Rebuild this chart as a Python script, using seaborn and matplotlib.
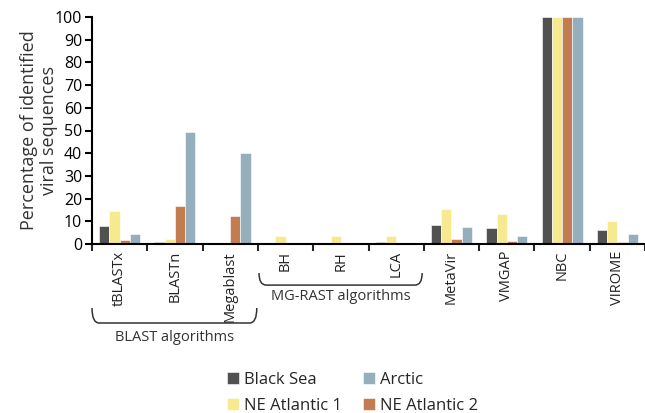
import numpy as np
import pandas as pd
import matplotlib.pyplot as plt
import seaborn as sns
from matplotlib.path import Path
from matplotlib.patches import PathPatch
import matplotlib.transforms as mtransforms

# ---------------- data ----------------#
methods = ["tBLASTx", "BLASTn", "Megablast", "BH", "RH", "LCA",
           "MetaVir", "VMGAP", "NBC", "VIROME"]
black_sea = [8.0, 0.8, 0.0, 0.4, 0.5, 1.0, 8.2, 7.2, 100, 6.3]
ne_atlantic1 = [14.4, 2.2, 0.0, 3.7, 3.7, 3.7, 15.6, 13.3, 100, 10.2]
ne_atlantic2 = [1.9, 16.6, 12.2, 0.3, 0.3, 0.2, 2.4, 1.4, 100, 0.8]
arctic = [4.5, 49.2, 40.0, 0.3, 0.3, 0.0, 7.3, 3.7, 100, 4.4]

samples = ["Black Sea", "NE Atlantic 1", "NE Atlantic 2", "Arctic"]
colors = ["#515151", "#F7E98E", "#C27C4F", "#94AEBB"]

df = pd.DataFrame({
    "method": methods * 4,
    "sample": np.repeat(samples, len(methods)),
    "value": black_sea + ne_atlantic1 + ne_atlantic2 + arctic,
})

# ---------------- plot ----------------#
sns.set_theme(style="white")
plt.rcParams["font.family"] = ["Open Sans", "DejaVu Sans"]

fig = plt.figure(figsize=(6.45, 4.13), dpi=100)
ax = fig.add_axes([92 / 645, 169 / 413, 1 - 92 / 645, 227 / 413])

sns.barplot(data=df, x="method", y="value", hue="sample", order=methods,
            hue_order=samples, palette=colors, width=0.74, saturation=1,
            edgecolor="white", linewidth=0.4, ax=ax, legend=True)

ax.set_ylim(0, 100)
ax.set_xlim(-0.5, 9.375)
ax.set_yticks(range(0, 101, 10))
ax.tick_params(axis="y", labelsize=11.5, length=5, width=1.5, direction="out",
               left=True, pad=2, colors="black")
ax.set_xticks(range(len(methods)))
ax.set_xticklabels(methods, rotation=90, fontsize=10.5, color="#222222")
ax.tick_params(axis="x", length=0, pad=5)
ax.set_xticks(np.arange(-0.5, len(methods), 1.0), minor=True)
ax.tick_params(axis="x", which="minor", length=5, width=1.5, bottom=True,
               direction="out")
for s in ["top", "right"]:
    ax.spines[s].set_visible(False)
for s in ["left", "bottom"]:
    ax.spines[s].set_color("black")
    ax.spines[s].set_linewidth(1.5)
ax.set_xlabel("")
ax.set_ylabel("Percentage of identified\nviral sequences", fontsize=13,
              color="#333333", labelpad=-2, linespacing=1.15)

# brackets under groups of methods
trans = mtransforms.blended_transform_factory(ax.transData, ax.transAxes)


def bracket(x0, x1, ytop, ybot, label, ytext):
    r = 0.13
    verts = [(x0, ytop), (x0, ybot), (x0 + r, ybot), (x1 - r, ybot),
             (x1, ybot), (x1, ytop)]
    codes = [Path.MOVETO, Path.CURVE3, Path.CURVE3, Path.LINETO,
             Path.CURVE3, Path.CURVE3]
    ax.add_patch(PathPatch(Path(verts, codes), transform=trans, fill=False,
                           lw=1.1, color="#333333", clip_on=False))
    ax.text((x0 + x1) / 2, ytext, label, transform=trans, ha="center",
            va="center", fontsize=10.5, color="#333333")


bracket(-0.5, 2.48, -0.282, -0.348, "BLAST algorithms", -0.41)
bracket(2.52, 5.47, -0.128, -0.181, "MG-RAST algorithms", -0.233)

# legend
h, l = ax.get_legend_handles_labels()
ax.get_legend().remove()
order = [0, 1, 3, 2]
fig.legend([h[i] for i in order], [l[i] for i in order], ncol=2,
           loc="center left", bbox_to_anchor=(212 / 645, 20 / 413),
           frameon=False, fontsize=12, handlelength=0.7, handleheight=0.7,
           handletextpad=0.3, columnspacing=1.3, labelspacing=0.6)

fig.savefig("out.png", dpi=100)
